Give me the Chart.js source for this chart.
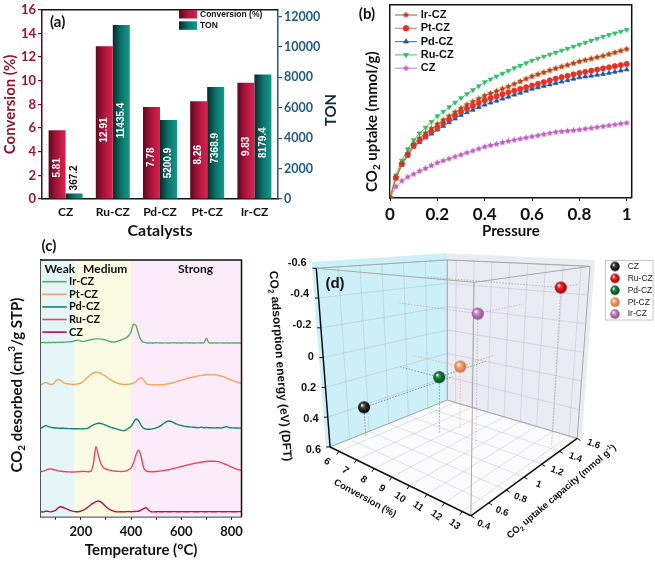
<!DOCTYPE html>
<html><head><meta charset="utf-8">
<script src="https://cdn.jsdelivr.net/npm/chart.js@4.4.1/dist/chart.umd.min.js"></script>
<style>
html,body{margin:0;padding:0;background:#fff;width:655px;height:561px;overflow:hidden;}
canvas{position:absolute;}
</style></head><body>
<canvas id="ca" width="340" height="243" style="left:0;top:0"></canvas>
<canvas id="cb" width="325" height="243" style="left:330px;top:0"></canvas>
<canvas id="cc" width="247" height="326" style="left:0;top:235px"></canvas>
<canvas id="cd" width="415" height="316" style="left:240px;top:245px"></canvas>
<script>
// ---------- (a) data ----------
const catalysts = ['CZ','Ru-CZ','Pd-CZ','Pt-CZ','Ir-CZ'];
const conversion = [5.81, 12.91, 7.78, 8.26, 9.83];
const ton = [367.2, 11435.4, 5200.9, 7368.9, 8179.4];
const convTicks = [0,2,4,6,8,10,12,14,16];
const tonTicks = [0,2000,4000,6000,8000,10000,12000];

// ---------- (b) data ----------
const pressure = [0,0.025,0.05,0.075,0.1,0.125,0.15,0.175,0.2,0.225,0.25,0.275,0.3,0.325,0.35,0.375,0.4,0.425,0.45,0.475,0.5,0.525,0.55,0.575,0.6,0.625,0.65,0.675,0.7,0.725,0.75,0.775,0.8,0.825,0.85,0.875,0.9,0.925,0.95,0.975,1.0];
const irUptake = [0,0.18,0.30,0.39,0.475,0.525,0.57,0.61,0.65,0.685,0.72,0.755,0.79,0.82,0.847,0.873,0.90,0.92,0.94,0.96,0.98,1.003,1.025,1.048,1.07,1.088,1.105,1.123,1.14,1.155,1.17,1.185,1.20,1.213,1.225,1.238,1.25,1.265,1.28,1.295,1.31];
const ptUptake = [0,0.18,0.30,0.38,0.46,0.505,0.545,0.585,0.62,0.655,0.69,0.725,0.76,0.785,0.81,0.835,0.86,0.878,0.895,0.913,0.93,0.945,0.96,0.975,0.99,1.005,1.02,1.035,1.05,1.063,1.075,1.088,1.10,1.11,1.12,1.13,1.14,1.15,1.16,1.17,1.18];
const pdUptake = [0,0.17,0.29,0.37,0.45,0.49,0.53,0.565,0.60,0.633,0.665,0.698,0.73,0.753,0.775,0.798,0.82,0.838,0.855,0.873,0.89,0.908,0.925,0.943,0.96,0.973,0.985,0.998,1.01,1.023,1.035,1.048,1.06,1.068,1.075,1.083,1.09,1.10,1.11,1.12,1.13];
const ruUptake = [0,0.20,0.33,0.43,0.51,0.57,0.62,0.67,0.72,0.76,0.80,0.84,0.88,0.915,0.95,0.985,1.02,1.045,1.07,1.095,1.12,1.143,1.165,1.187,1.21,1.228,1.245,1.263,1.28,1.298,1.315,1.333,1.35,1.368,1.385,1.403,1.42,1.435,1.45,1.465,1.48];
const czUptake = [0,0.10,0.15,0.185,0.21,0.237,0.26,0.285,0.31,0.328,0.345,0.363,0.38,0.398,0.415,0.433,0.45,0.463,0.475,0.488,0.50,0.51,0.52,0.53,0.54,0.55,0.56,0.57,0.58,0.585,0.59,0.595,0.60,0.608,0.615,0.623,0.63,0.638,0.645,0.653,0.66];
const pressureTicks = [0,0.2,0.4,0.6,0.8,1];

// ---------- (c) data ----------
const temps = [40,50,60,70,80,90,100,110,120,130,140,150,160,170,180,190,200,210,220,230,240,250,260,270,280,290,300,310,320,330,340,350,360,370,380,390,400,410,420,430,440,450,460,470,480,490,500,510,520,530,540,550,560,570,580,590,600,610,620,630,640,650,660,670,680,690,700,710,720,730,740,750,760,770,780,790,800,810,820,830,840];
const irTPD = [0,0.3,0,0.2,0.1,0.3,0.2,0.4,0.3,0.5, 0.6,0.8,1.0,1.4,2.2,2.6,1.6,1.3,1.8,2.5, 3.0,3.5,3.8,3.8,3.6,3.2,2.5,1.6,0.9,0.6, 1.0,1.8,2.7,3.6,4.8,7.0,11.0,18.5,17.0,8.5, 2.5,0.5,0,-0.3,-0.2,-0.3,-0.1,-0.2,-0.3,-0.2, -0.2,-0.3,-0.2,-0.1,-0.3,-0.2,-0.3,-0.2,-0.1,-0.3, -0.2,-0.3,-0.2,-0.2,-0.3,-0.2,4.5,-0.2,-0.3,-0.2, -0.3,-0.2,-0.2,-0.3,-0.2,-0.3,-0.2,-0.3,-0.2,-0.3, -0.2];
const ptTPD = [0,1.5,2.5,1.5,0.5,1.0,4.0,5.5,4.5,2.5, 1.5,1.0,0.8,0.5,0.8,1.2,2.0,3.5,6.0,8.5, 10.5,12.0,12.8,12.5,11.5,10.0,8.5,6.5,5.0,3.5, 2.5,1.5,1.0,0.5,0.5,0.8,1.2,2.0,3.5,6.0, 7.0,5.0,1.5,0.5,0.3,0.2,0,0.2,0.3,0.5, 0.8,1.2,1.8,2.5,3.2,4.0,4.8,5.5,6.3,7.0, 7.6,8.2,8.7,9.2,9.6,9.9,10.2,10.3,10.4,10.3, 10.0,9.5,8.8,8.0,7.0,6.0,4.8,3.8,3.0,2.3, 1.8];
const pdTPD = [0,1.5,2.7,2.0,1.0,0.5,0.3,0.2,0,0, -0.2,-0.3,-0.3,-0.5,-0.5,-0.5,-0.6,-0.5,-0.3,0.5, 2.0,3.5,4.5,5.0,4.8,4.0,3.0,2.0,1.0,0.3, -0.5,-1.2,-2.0,-2.5,-1.5,0,2.0,6.0,9.3,7.5, 3.0,0,-0.8,-1.0,-0.8,-0.3,0.5,1.5,3.0,4.8, 6.5,7.3,6.8,5.5,4.5,3.5,2.8,2.2,1.8,1.5, 1.2,1.0,0.8,0.6,1.2,0.5,0.8,0.6,0.5,0.3, 0.6,0.5,0.3,1.0,1.5,0.8,0.5,0.4,0.3,0.2, 0.2];
const ruTPD = [0,0.5,1.5,2.5,2.8,2.2,1.5,0.8,0.5,0.2, 0,-0.2,-0.3,-0.3,-0.2,0,0.2,0.3,0.2,0, 0.5,8.0,25.0,16.0,8.0,4.0,2.5,1.8,1.2,0.8, 0.5,0.3,0.2,0.3,0.8,2.0,3.5,9.0,17.0,21.5, 15.0,4.0,0.8,0.2,0,0,0.2,0.5,0.8,1.2, 1.6,2.0,2.6,3.2,3.8,4.5,5.2,5.8,6.5,7.0, 7.6,8.2,8.7,9.2,9.6,10.0,10.2,10.4,10.5,10.5, 10.3,9.8,9.0,8.0,7.0,5.8,4.6,3.5,2.5,1.8, 1.2];
const czTPD = [0,-0.3,0.5,0.3,-0.2,0.5,1.5,4.0,5.0,4.2, 3.0,2.0,1.0,0.3,0,0,0.5,1.5,3.0,5.0, 7.0,8.5,10.0,10.7,9.5,7.5,5.0,3.0,1.5,0.5, 0,-0.2,0,-0.2,0,0.2,0,0.2,0.3,0.5, 1.5,3.0,4.0,1.5,0,-0.2,0,0.1,-0.1,0, 0.1,-0.1,0,0.1,0,-0.1,0.1,0,-0.1,0, 0.1,0,-0.1,0,0.1,0,-0.1,0.1,0,-0.1, 0,0.1,0,-0.1,0,0.1,0,-0.1,0,0.1, 0];
const tpdNames = ['Ir-CZ','Pt-CZ','Pd-CZ','Ru-CZ','CZ'];
const tpdOffsets = [174, 131.7, 88.4, 45, 5];
const regionEdges = [40, 175, 400, 840];
const regionNames = ['Weak','Medium','Strong'];
const regionLabelT = [116, 297, 657];
const tempTicks = [100,200,300,400,500,600,700,800];

// ---------- (d) data ----------
const d3Names = ['CZ','Ru-CZ','Pd-CZ','Pt-CZ','Ir-CZ'];
const d3Conversion = [5.81, 12.91, 7.78, 8.26, 9.83];
const d3Uptake = [0.71, 1.42, 1.13, 1.26, 1.15];
const d3Energy = [0.39, -0.47, 0.20, 0.14, -0.29];
const convAxisTicks = [6,7,8,9,10,11,12,13];
const uptakeAxisTicks = [0.4,0.6,0.8,1,1.2,1.4,1.6];
const energyAxisTicks = [-0.6,-0.4,-0.2,0,0.2,0.4,0.6];

// ---------- helpers ----------
const LATO = 'Lato, "Open Sans", sans-serif';
const ARIAL = '"Liberation Sans", Arial, sans-serif';
const NARROW = '"Liberation Sans Narrow", "Liberation Sans", sans-serif';
function richText(ctx, parts, x, y, angle, size, family, weight, color, align) {
  ctx.save();
  ctx.translate(x, y); ctx.rotate(angle);
  ctx.fillStyle = color; ctx.textBaseline = 'middle'; ctx.textAlign = 'left';
  const fonts = parts.map(p => `${weight} ${p[1] ? size * 0.66 : size}px ${family}`);
  let w = 0;
  const ws = parts.map((p, i) => { ctx.font = fonts[i]; const m = ctx.measureText(p[0]).width; w += m; return m; });
  let cx = align === 'left' ? 0 : (align === 'right' ? -w : -w / 2);
  parts.forEach((p, i) => {
    ctx.font = fonts[i];
    const dy = p[1] === 1 ? size * 0.32 : (p[1] === 2 ? -size * 0.32 : 0);
    ctx.fillText(p[0], cx, dy); cx += ws[i];
  });
  ctx.restore();
}
function text(ctx, t, x, y, font, color, align, angle) {
  ctx.save(); ctx.translate(x, y); ctx.rotate(angle || 0);
  ctx.font = font; ctx.fillStyle = color; ctx.textAlign = align || 'center'; ctx.textBaseline = 'middle';
  ctx.fillText(t, 0, 0); ctx.restore();
}
function grad(ctx, x0, x1, stops) {
  const g = ctx.createLinearGradient(x0, 0, x1, 0);
  stops.forEach(s => g.addColorStop(s[0], s[1])); return g;
}

// ================= (a) =================
const convStops = [[0,'#5c0820'],[0.45,'#a8123a'],[1,'#d8244c']];
const tonStops = [[0,'#052a2a'],[0.5,'#0b746b'],[1,'#13998a']];
const CAT_PCT = 0.72;
function barFill(stops, side) {
  return (c) => {
    const ch = c.chart;
    if (!ch.chartArea || c.type !== 'data') return stops[1][1];
    const cx = ch.scales.x.getPixelForValue(c.dataIndex);
    const half = (ch.chartArea.right - ch.chartArea.left) / catalysts.length * CAT_PCT / 2;
    return side < 0 ? grad(ch.ctx, cx - half, cx, stops) : grad(ch.ctx, cx, cx + half, stops);
  };
}
const aPlugin = {
  id: 'aDeco',
  afterDraw(chart) {
    const ctx = chart.ctx, ca = chart.chartArea;
    ctx.save(); ctx.strokeStyle = '#111'; ctx.lineWidth = 1.5;
    ctx.beginPath(); ctx.moveTo(ca.left, ca.top); ctx.lineTo(ca.right, ca.top); ctx.stroke(); ctx.restore();
    [conversion, ton].forEach((vals, di) => {
      chart.getDatasetMeta(di).data.forEach((el, j) => {
        const h = el.base - el.y;
        const t = String(vals[j]);
        if (h > 40) {
          text(ctx, t, el.x, el.base - 0.45 * h, `bold 10px ${ARIAL}`, '#fff', 'center', -Math.PI / 2);
        } else {
          text(ctx, t, el.x, el.y - 3, `bold 10px ${ARIAL}`, '#111', 'left', -Math.PI / 2);
        }
      });
    });
    const items = [['Conversion (%)', convStops, 10], ['TON', tonStops, 21.3]];
    items.forEach(([lab, st, y]) => {
      ctx.fillStyle = grad(ctx, 179, 197, st); ctx.fillRect(179, y, 18, 8.5);
      text(ctx, lab, 200, y + 4.3, `bold 8.5px ${ARIAL}`, '#111', 'left');
    });
    text(ctx, '(a)', 50, 22.5, `bold 15px ${LATO}`, '#111', 'left');
    text(ctx, 'TON', 331.5, 110, `bold 15px ${LATO}`, '#16283c', 'center', -Math.PI / 2);
  }
};
new Chart(document.getElementById('ca'), {
  type: 'bar',
  data: { labels: catalysts, datasets: [
    { label: 'Conversion (%)', data: conversion, yAxisID: 'y', backgroundColor: barFill(convStops, -1), categoryPercentage: CAT_PCT, barPercentage: 1, borderWidth: 0 },
    { label: 'TON', data: ton, yAxisID: 'y2', backgroundColor: barFill(tonStops, 1), categoryPercentage: CAT_PCT, barPercentage: 1, borderWidth: 0 }
  ]},
  options: {
    responsive: false, animation: false, events: [],
    layout: { padding: { top: 8, left: 0, right: 0, bottom: 0 } },
    plugins: { legend: { display: false }, tooltip: { enabled: false } },
    scales: {
      x: { grid: { display: false, drawTicks: false }, border: { color: '#111', width: 1.5 },
        ticks: { font: { family: LATO, weight: 'bold', size: 12 }, color: '#111', padding: 6 },
        title: { display: true, text: 'Catalysts', color: '#111', font: { family: LATO, weight: 'bold', size: 16 }, padding: { top: 0, bottom: 3 } },
        afterFit: s => { s.height = 44; } },
      y: { position: 'left', min: 0, max: 16,
        afterBuildTicks: s => { s.ticks = convTicks.map(v => ({ value: v })); },
        ticks: { callback: v => String(v), font: { family: LATO, weight: 'bold', size: 13 }, color: '#9b1530', padding: 2 },
        grid: { drawOnChartArea: false, tickLength: 4, color: '#6a1024', lineWidth: 1.2 },
        border: { color: '#4a0d1a', width: 1.5 },
        title: { display: true, text: 'Conversion (%)', color: '#8e1530', font: { family: LATO, weight: 'bold', size: 15 }, padding: { top: 1 } },
        afterFit: s => { s.width = 42; } },
      y2: { position: 'right', min: 0, max: 12440,
        afterBuildTicks: s => { s.ticks = tonTicks.map(v => ({ value: v })); },
        ticks: { callback: v => String(v), font: { family: LATO, weight: 'bold', size: 12.5 }, color: '#1f5a82', padding: 2 },
        grid: { drawOnChartArea: false, tickLength: 4, color: '#1f5a82', lineWidth: 1.2 },
        border: { color: '#1f5a82', width: 1.5 },
        afterFit: s => { s.width = 62; } }
    }
  },
  plugins: [aPlugin]
});

// ================= (b) =================
function starImg(color, r) {
  const c = document.createElement('canvas'); const s = Math.ceil(2 * r) + 2;
  c.width = c.height = s; const g = c.getContext('2d'); g.fillStyle = color; g.beginPath();
  for (let i = 0; i < 10; i++) { const rr = i % 2 ? r * 0.5 : r; const a = -Math.PI / 2 + i * Math.PI / 5; g.lineTo(s / 2 + rr * Math.cos(a), s / 2 + rr * Math.sin(a)); }
  g.closePath(); g.fill(); return c;
}
const bSeries = [
  { label: 'Ir-CZ', data: irUptake, line: '#b07060', color: '#b0402c', style: starImg('#b0402c', 3.4), rot: 0 },
  { label: 'Pt-CZ', data: ptUptake, line: '#f08080', color: '#e8302a', style: 'circle', rot: 0 },
  { label: 'Pd-CZ', data: pdUptake, line: '#5a80b0', color: '#1f58a5', style: 'triangle', rot: 0 },
  { label: 'Ru-CZ', data: ruUptake, line: '#60c890', color: '#2cbf6a', style: 'triangle', rot: 180 },
  { label: 'CZ', data: czUptake, line: '#d090d0', color: '#c060c0', style: starImg('#c060c0', 3.4), rot: 0 }
];
const toXY = arr => arr.map((v, i) => ({ x: pressure[i], y: v }));
const bPlugin = {
  id: 'bDeco',
  afterDraw(chart) {
    const ctx = chart.ctx, ca = chart.chartArea;
    ctx.save(); ctx.strokeStyle = '#111'; ctx.lineWidth = 1.5;
    ctx.beginPath(); ctx.moveTo(ca.left, ca.top); ctx.lineTo(ca.right, ca.top); ctx.lineTo(ca.right, ca.bottom); ctx.stroke(); ctx.restore();
    richText(ctx, [['CO', 0], ['2', 1], [' uptake (mmol/g)', 0]], 41.7, 121.7, -Math.PI / 2, 15, LATO, 'bold', '#111', 'center');
    text(ctx, '(b)', 37, 14, `bold 15px ${LATO}`, '#111', 'center');
    bSeries.forEach((s, i) => {
      const y = 15 + i * 13.3;
      ctx.save(); ctx.strokeStyle = s.line; ctx.lineWidth = 1.2;
      ctx.beginPath(); ctx.moveTo(65, y); ctx.lineTo(87, y); ctx.stroke();
      ctx.fillStyle = s.color; ctx.strokeStyle = s.color; ctx.lineWidth = 0.8;
      Chart.helpers.drawPoint(ctx, { pointStyle: s.style, rotation: s.rot, radius: 2.8, borderWidth: 0.8 }, 76, y);
      ctx.restore();
      text(ctx, s.label, 90.7, y, `bold 11px ${ARIAL}`, '#111', 'left');
    });
  }
};
new Chart(document.getElementById('cb'), {
  type: 'line',
  data: { datasets: [
    { label: 'band', data: toXY(irUptake), borderColor: 'rgba(255,236,150,0.5)', borderWidth: 6, pointRadius: 0, order: 10 },
    ...bSeries.map((s, i) => ({ label: s.label, data: toXY(s.data), borderColor: s.line, borderWidth: 1,
      pointStyle: s.style, pointRotation: s.rot, pointRadius: 2.6, pointBackgroundColor: s.color,
      pointBorderColor: s.color, pointBorderWidth: 0.8, order: i }))
  ]},
  options: {
    responsive: false, animation: false, events: [],
    layout: { padding: { top: 2, right: 23.3, left: 0, bottom: 0 } },
    plugins: { legend: { display: false }, tooltip: { enabled: false } },
    scales: {
      x: { type: 'linear', min: 0, max: 1.021,
        afterBuildTicks: s => { s.ticks = pressureTicks.map(v => ({ value: v })); },
        ticks: { callback: v => String(+v.toFixed(1)), font: { family: LATO, weight: 'bold', size: 17 }, color: '#111', padding: 3 },
        grid: { drawOnChartArea: false, tickLength: 3, color: '#111' }, border: { color: '#111', width: 1.5 },
        title: { display: true, text: 'Pressure', color: '#111', font: { family: LATO, weight: 'bold', size: 15 }, padding: { top: 0, bottom: 3 } },
        afterFit: s => { s.height = 45; } },
      y: { min: 0, max: 1.7, ticks: { display: false }, grid: { display: false, drawTicks: false },
        border: { color: '#111', width: 1.5 }, afterFit: s => { s.width = 60; } }
    }
  },
  plugins: [bPlugin]
});

// ================= (c) =================
const tpdColors = ['#5aaa70', '#f4a464', '#13857a', '#e64862', '#b0124a'];
const tpdData = [irTPD, ptTPD, pdTPD, ruTPD, czTPD];
const regionColors = ['#e4f6f6', '#fafbe2', '#fcebf8'];
const cPlugin = {
  id: 'cDeco',
  beforeDatasetsDraw(chart) {
    const ctx = chart.ctx, ca = chart.chartArea, xs = chart.scales.x;
    regionColors.forEach((col, i) => {
      const x0 = xs.getPixelForValue(regionEdges[i]), x1 = xs.getPixelForValue(regionEdges[i + 1]);
      ctx.fillStyle = col; ctx.fillRect(x0, ca.top, x1 - x0, ca.bottom - ca.top);
    });
  },
  afterDraw(chart) {
    const ctx = chart.ctx, ca = chart.chartArea, xs = chart.scales.x;
    ctx.save(); ctx.strokeStyle = '#111'; ctx.lineWidth = 1.5;
    ctx.beginPath(); ctx.moveTo(ca.left, ca.top); ctx.lineTo(ca.right, ca.top); ctx.lineTo(ca.right, ca.bottom); ctx.stroke(); ctx.restore();
    regionNames.forEach((n, i) => text(ctx, n, xs.getPixelForValue(regionLabelT[i]), 34, `bold 12px ${LATO}`, '#111', 'center'));
    tpdNames.forEach((n, i) => {
      const y = 46.7 + i * 12.6;
      ctx.save(); ctx.strokeStyle = tpdColors[i]; ctx.lineWidth = 1.6;
      ctx.beginPath(); ctx.moveTo(42.3, y); ctx.lineTo(66.7, y); ctx.stroke(); ctx.restore();
      text(ctx, n, 69, y, `bold 11px ${LATO}`, '#111', 'left');
    });
    richText(ctx, [['CO', 0], ['2', 1], [' desorbed (cm', 0], ['3', 2], ['/g STP)', 0]], 17, 150, -Math.PI / 2, 15, LATO, 'bold', '#111', 'center');
    text(ctx, '(c)', 49, 11, `bold 15px ${LATO}`, '#111', 'center');
  }
};
new Chart(document.getElementById('cc'), {
  type: 'line',
  data: { datasets: tpdData.map((arr, i) => ({ label: tpdNames[i],
    data: arr.map((v, k) => ({ x: temps[k], y: tpdOffsets[i] + v })),
    borderColor: tpdColors[i], borderWidth: 1.4, pointRadius: 0, cubicInterpolationMode: 'monotone' })) },
  options: {
    responsive: false, animation: false, events: [],
    layout: { padding: { top: 25, right: 4.3, left: 0, bottom: 0 } },
    plugins: { legend: { display: false }, tooltip: { enabled: false } },
    scales: {
      x: { type: 'linear', min: 40, max: 840,
        afterBuildTicks: s => { s.ticks = tempTicks.map(v => ({ value: v })); },
        ticks: { callback: v => (v % 200 === 0 ? String(v) : ''), autoSkip: false, maxRotation: 0, font: { family: LATO, weight: 'bold', size: 13 }, color: '#111', padding: 4 },
        grid: { drawOnChartArea: false, tickLength: 3, color: '#111' }, border: { color: '#111', width: 1.5 },
        title: { display: true, text: 'Temperature (°C)', color: '#111', font: { family: LATO, weight: 'bold', size: 15 }, padding: { top: 0, bottom: 2 } },
        afterFit: s => { s.height = 44.3; } },
      y: { min: 0, max: 256.7, ticks: { display: false }, grid: { display: false, drawTicks: false },
        border: { color: '#111', width: 1.5 }, afterFit: s => { s.width = 40.7; } }
    }
  },
  plugins: [cPlugin]
});

// ================= (d) =================
const cRange = [5.5, 13.5], uRange = [0.4, 1.6], eRange = [-0.6, 0.6];
const boxCorners = {
  '000': [86, 204], '100': [231.7, 276], '010': [207.3, 155], '110': [341.7, 195],
  '001': [71.7, 17], '101': [235, 31.7], '011': [207.3, 8.3], '111': [355, 15] };
function proj(c, u, e) {
  const a = (c - cRange[0]) / (cRange[1] - cRange[0]);
  const b = (u - uRange[0]) / (uRange[1] - uRange[0]);
  const h = (eRange[1] - e) / (eRange[1] - eRange[0]);
  let x = 0, y = 0;
  for (const ia of [0, 1]) for (const ib of [0, 1]) for (const ih of [0, 1]) {
    const w = (ia ? a : 1 - a) * (ib ? b : 1 - b) * (ih ? h : 1 - h);
    const p = boxCorners['' + ia + ib + ih]; x += w * p[0]; y += w * p[1];
  }
  return { x, y };
}
function sphere(col, dark, r) {
  const c = document.createElement('canvas'); const s = Math.ceil(2 * r + 2);
  c.width = c.height = s; const g = c.getContext('2d'); const m = s / 2;
  const gr = g.createRadialGradient(m - r * 0.35, m - r * 0.4, r * 0.08, m, m, r);
  gr.addColorStop(0, '#ffffff'); gr.addColorStop(0.28, col); gr.addColorStop(1, dark);
  g.fillStyle = gr; g.beginPath(); g.arc(m, m, r, 0, Math.PI * 2); g.fill(); return c;
}
const d3Colors = [['#444', '#000'], ['#ff2a2a', '#8e0000'], ['#22914c', '#033a16'], ['#f8ad80', '#cf6a34'], ['#d092d4', '#86458c']];
const lineCols = ['rgba(90,90,90,0.6)', 'rgba(150,150,150,0.6)', 'rgba(40,140,70,0.6)', 'rgba(240,150,100,0.6)', 'rgba(190,140,190,0.6)'];
const bigSpheres = d3Colors.map(c => sphere(c[0], c[1], 6));
const smallSpheres = d3Colors.map(c => sphere(c[0], c[1], 4.7));
const dDatasets = [];
function seg(p, q, color, width, dash, order) {
  dDatasets.push({ data: [p, q], showLine: true, pointRadius: 0, borderColor: color, borderWidth: width, borderDash: dash || [], order: order });
}
const GRID = 'rgba(150,160,170,0.35)';
uptakeAxisTicks.forEach(u => { seg(proj(5.5, u, 0.6), proj(5.5, u, -0.6), GRID, 0.8, null, 8); seg(proj(5.5, u, 0.6), proj(13.5, u, 0.6), GRID, 0.8, null, 8); });
energyAxisTicks.forEach(e => { seg(proj(5.5, 0.4, e), proj(5.5, 1.6, e), GRID, 0.8, null, 8); seg(proj(5.5, 1.6, e), proj(13.5, 1.6, e), GRID, 0.8, null, 8); });
convAxisTicks.forEach(c => { seg(proj(c, 1.6, 0.6), proj(c, 1.6, -0.6), GRID, 0.8, null, 8); seg(proj(c, 0.4, 0.6), proj(c, 1.6, 0.6), GRID, 0.8, null, 8); });
const EDGE = '#a8a8a8';
[[[5.5,0.4,-0.6],[13.5,0.4,-0.6]], [[13.5,0.4,-0.6],[13.5,1.6,-0.6]], [[5.5,0.4,-0.6],[5.5,1.6,-0.6]], [[5.5,1.6,-0.6],[13.5,1.6,-0.6]],
 [[5.5,1.6,0.6],[5.5,1.6,-0.6]], [[13.5,0.4,0.6],[13.5,0.4,-0.6]], [[5.5,0.4,0.6],[5.5,1.6,0.6]], [[5.5,1.6,0.6],[13.5,1.6,0.6]], [[13.5,1.6,0.6],[13.5,1.6,-0.6]]]
  .forEach(([p, q]) => seg(proj(...p), proj(...q), EDGE, 1, null, 6));
seg(proj(5.5, 0.4, 0.6), proj(5.5, 0.4, -0.6), '#111', 1.5, null, 5);
seg(proj(5.5, 0.4, 0.6), proj(13.5, 0.4, 0.6), '#111', 1.5, null, 5);
seg(proj(13.5, 0.4, 0.6), proj(13.5, 1.6, 0.6), '#111', 1.5, null, 5);
energyAxisTicks.forEach(e => { const p = proj(5.5, 0.4, e); seg(p, { x: p.x - 4, y: p.y }, '#111', 1, null, 5); });
convAxisTicks.forEach(c => { const p = proj(c, 0.4, 0.6); seg(p, { x: p.x - 2.2, y: p.y + 3.5 }, '#111', 1, null, 5); });
uptakeAxisTicks.forEach(u => { const p = proj(13.5, u, 0.6); seg(p, { x: p.x + 3.5, y: p.y + 2.2 }, '#111', 1, null, 5); });
d3Names.forEach((n, i) => {
  const c = d3Conversion[i], u = d3Uptake[i], e = d3Energy[i], p = proj(c, u, e);
  seg(p, proj(c, u, 0.6), lineCols[i], 1, [1.5, 1.5], 1);
  seg(p, proj(5.5, u, e), lineCols[i], 1, [1.5, 1.5], 1);
  seg(p, proj(c, 1.6, e), lineCols[i], 1, [1.5, 1.5], 1);
});
dDatasets.push({ data: d3Names.map((n, i) => proj(d3Conversion[i], d3Uptake[i], d3Energy[i])), pointStyle: bigSpheres, pointRadius: 6, showLine: false, order: 0 });

const dPlugin = {
  id: 'dDeco',
  beforeDatasetsDraw(chart) {
    const ctx = chart.ctx;
    const poly = (pts, col) => { ctx.beginPath(); pts.forEach((p, i) => { const q = proj(...p); i ? ctx.lineTo(q.x, q.y) : ctx.moveTo(q.x, q.y); }); ctx.closePath(); ctx.fillStyle = col; ctx.fill(); };
    poly([[5.5,0.4,0.6],[5.5,1.6,0.6],[5.5,1.6,-0.6],[5.5,0.4,-0.6]], '#cdeff8');
    poly([[5.5,1.6,0.6],[13.5,1.6,0.6],[13.5,1.6,-0.6],[5.5,1.6,-0.6]], '#ebebf4');
    poly([[5.5,0.4,0.6],[13.5,0.4,0.6],[13.5,1.6,0.6],[5.5,1.6,0.6]], '#fbfbfc');
  },
  afterDraw(chart) {
    const ctx = chart.ctx;
    const tf = `bold 11px ${ARIAL}`;
    energyAxisTicks.forEach(e => { const p = proj(5.5, 0.4, e); text(ctx, e === 0 ? '0' : e.toFixed(1), p.x - 5, p.y + 1, tf, '#111', 'right'); });
    convAxisTicks.forEach(c => { const p = proj(c, 0.4, 0.6); text(ctx, String(c), p.x - 8, p.y + 8, `bold 10px ${ARIAL}`, '#111', 'center', 0.61); });
    uptakeAxisTicks.forEach(u => { const p = proj(13.5, u, 0.6); text(ctx, u === 1 ? '1' : u.toFixed(1), p.x + 12, p.y + 4, `bold 9.5px ${ARIAL}`, '#111', 'center', 0.35); });
    text(ctx, 'Conversion (%)', 125, 253.3, `bold 9.5px ${ARIAL}`, '#111', 'center', 0.5);
    richText(ctx, [['CO', 0], ['2', 1], [' uptake capacity (mmol g', 0], ['-1', 2], [')', 0]], 321.7, 246.7, -0.705, 9.5, NARROW, 'bold', '#111', 'center');
    richText(ctx, [['CO', 0], ['2', 1], [' adsorption energy (eV) (DFT)', 0]], 40, 121, 1.495, 12, NARROW, 'bold', '#111', 'center');
    text(ctx, '(d)', 95, 39, `bold 15px ${ARIAL}`, '#111', 'center');
    ctx.save(); ctx.fillStyle = '#fff'; ctx.strokeStyle = '#bbb'; ctx.lineWidth = 0.8;
    ctx.fillRect(365, 15, 48, 60); ctx.strokeRect(365.5, 15.5, 47.5, 59.5); ctx.restore();
    d3Names.forEach((n, i) => {
      const y = 21.5 + i * 11.9; const im = smallSpheres[i];
      ctx.drawImage(im, 375 - im.width / 2, y - im.height / 2);
      text(ctx, n, 387.7, y, `8.5px ${ARIAL}`, '#222', 'left');
    });
  }
};
new Chart(document.getElementById('cd'), {
  type: 'scatter',
  data: { datasets: dDatasets },
  options: {
    responsive: false, animation: false, events: [],
    layout: { padding: 0 },
    plugins: { legend: { display: false }, tooltip: { enabled: false } },
    scales: { x: { type: 'linear', min: 0, max: 415, display: false }, y: { type: 'linear', min: 0, max: 316, reverse: true, display: false } }
  },
  plugins: [dPlugin]
});
</script>
</body></html>
